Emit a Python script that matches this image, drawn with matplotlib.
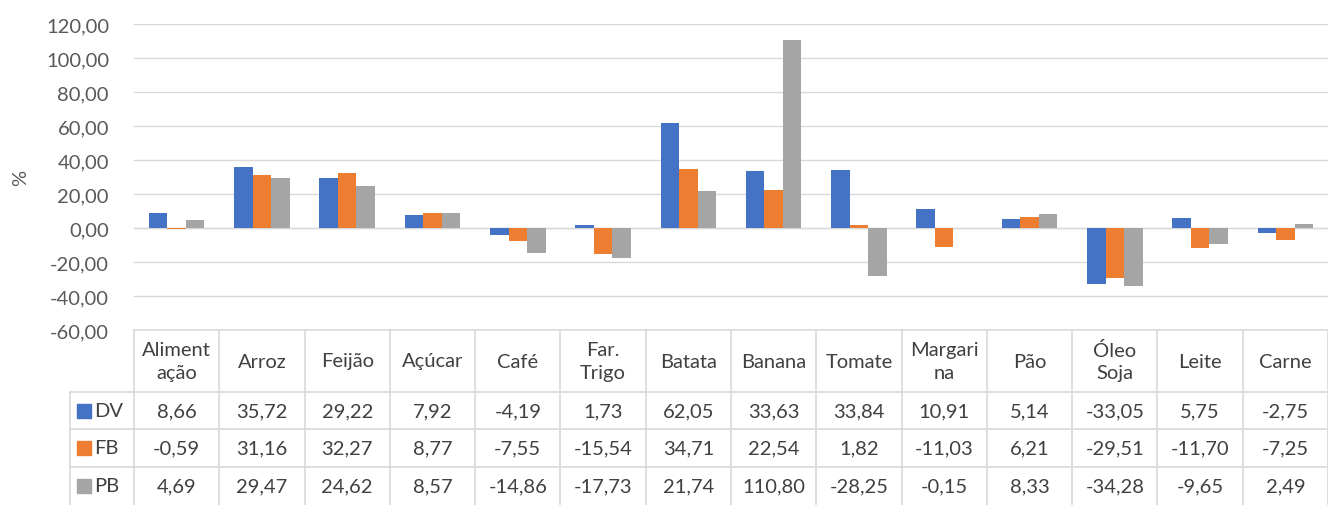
import matplotlib
matplotlib.use("Agg")
import matplotlib.pyplot as plt
import numpy as np

plt.rcParams['font.family'] = ['Lato', 'DejaVu Sans']

# Dados
categorias = ["Aliment\nação", "Arroz", "Feijão", "Açúcar", "Café", "Far.\nTrigo",
              "Batata", "Banana", "Tomate", "Margari\nna", "Pão", "Óleo\nSoja",
              "Leite", "Carne"]
series = ["DV", "FB", "PB"]
dv = [8.66, 35.72, 29.22, 7.92, -4.19, 1.73, 62.05, 33.63, 33.84, 10.91, 5.14, -33.05, 5.75, -2.75]
fb = [-0.59, 31.16, 32.27, 8.77, -7.55, -15.54, 34.71, 22.54, 1.82, -11.03, 6.21, -29.51, -11.70, -7.25]
pb = [4.69, 29.47, 24.62, 8.57, -14.86, -17.73, 21.74, 110.80, -28.25, -0.15, 8.33, -34.28, -9.65, 2.49]
cores = ["#4472C4", "#ED7D31", "#A5A5A5"]
yticks = np.arange(-60, 121, 20)

W, H = 1328, 506
fig = plt.figure(figsize=(W / 100, H / 100), dpi=100)
fs = 14.5

# Área do gráfico (pixels: x 134..1328, y 25..331)
ax = fig.add_axes([134 / W, (H - 331) / H, (W - 134) / W, 306 / H])
x = np.arange(len(categorias))
bw = 0.217
for k, (vals, cor) in enumerate(zip([dv, fb, pb], cores)):
    ax.bar(x + (k - 1) * bw, vals, width=bw, color=cor, zorder=3)

ax.set_xlim(-0.5, len(categorias) - 0.5)
ax.set_ylim(-60, 120)
ax.set_yticks(yticks)
ax.set_yticklabels([f"{v:.2f}".replace(".", ",") for v in yticks])
ax.set_xticks([])
ax.tick_params(axis="y", length=0, pad=18, labelsize=fs, labelcolor="#595959")
ax.grid(axis="y", color="#D9D9D9", linewidth=1, zorder=0)
for s in ax.spines.values():
    s.set_visible(False)
ax.axhline(0, color="#D9D9D9", linewidth=1, zorder=2)
ax.set_ylabel("%", fontsize=fs, color="#595959", labelpad=12)

# Tabela de dados
tab = fig.add_axes([134 / W, 0, (W - 134) / W, 175 / H], sharex=ax)
tab.set_ylim(175, 0)
tab.axis("off")
lc = "#D9D9D9"
tc = "#404040"
n = len(categorias)
leg_x = -0.5 - 64 / 85.29
# linhas horizontais
tab.plot([-0.5, n - 0.5], [0, 0], color=lc, lw=1.2, clip_on=False)
for yy in [62, 99, 137]:
    tab.plot([leg_x, n - 0.5], [yy, yy], color=lc, lw=1.2, clip_on=False)
# linhas verticais
for i in range(n + 1):
    tab.plot([i - 0.5, i - 0.5], [0, 175], color=lc, lw=1.2, clip_on=False)
tab.plot([leg_x, leg_x], [62, 175], color=lc, lw=1.2, clip_on=False)

for i, c in enumerate(categorias):
    tab.text(i, 31, c, ha="center", va="center", fontsize=fs, color=tc,
             linespacing=1.4, clip_on=False)

rows_y = [80.5, 118, 156]
for s, vals, cor, yy in zip(series, [dv, fb, pb], cores, rows_y):
    tab.scatter([leg_x + 0.16], [yy], marker="s", s=110, color=cor, clip_on=False)
    tab.text(leg_x + 0.28, yy, s, ha="left", va="center", fontsize=fs, color=tc, clip_on=False)
    for i, v in enumerate(vals):
        tab.text(i, yy, f"{v:.2f}".replace(".", ","), ha="center", va="center",
                 fontsize=fs, color=tc, clip_on=False)

fig.savefig("out.png", dpi=100)
